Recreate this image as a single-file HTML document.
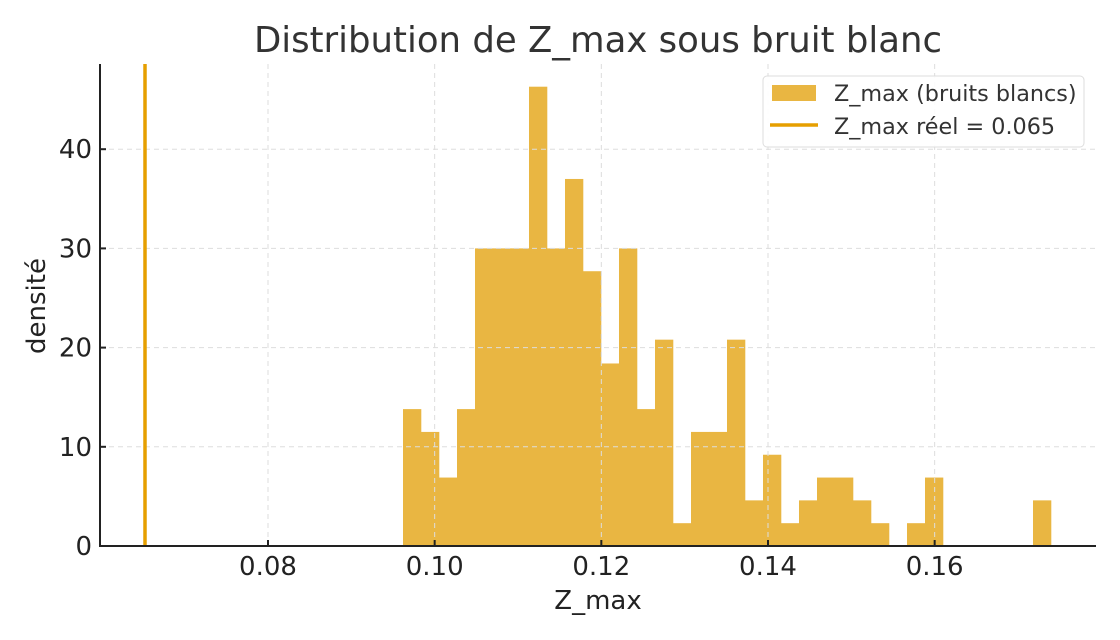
<!DOCTYPE html>
<html><head><meta charset="utf-8"><style>
body{margin:0;background:#fff;}
svg{display:block;font-family:"DejaVu Sans","Liberation Sans",sans-serif;}
</style></head><body>
<svg id="c" width="1120" height="640">
<text x="598" y="52" font-size="35.5" text-anchor="middle" fill="#333">Distribution de Z_max sous bruit blanc</text>
<g id="grid"></g><g id="bars"></g><g id="gridtop"></g><g id="axes"></g>
<text x="598" y="609" font-size="26" text-anchor="middle" fill="#222">Z_max</text>
<text transform="translate(45,306) rotate(-90)" font-size="26" text-anchor="middle" fill="#222">densité</text>
<g>
<rect x="763" y="76" width="321" height="71" rx="4" fill="#fff" fill-opacity="0.9" stroke="#ddd"/>
<rect x="772" y="85" width="44" height="16" fill="#E9B642"/>
<text x="834" y="101" font-size="22.3" fill="#333">Z_max (bruits blancs)</text>
<line x1="770" x2="818" y1="125" y2="125" stroke="#E69F00" stroke-width="3.5"/>
<text x="834" y="134" font-size="22.3" fill="#333">Z_max réel = 0.065</text>
</g>
</svg>
<script>
const binStart = 0.0962;
const binWidth = 0.00216;
const densities = [13.8,11.5,6.9,13.8,30,30,30,46.3,30,37,27.7,18.4,30,13.8,20.8,2.3,11.5,11.5,20.8,4.6,9.2,2.3,4.6,6.9,6.9,4.6,2.3,0,2.3,6.9,0,0,0,0,0,4.6];
const xTicks = [0.08,0.10,0.12,0.14,0.16];
const xTickLabels = ["0.08","0.10","0.12","0.14","0.16"];
const yTicks = [0,10,20,30,40];
const realZ = 0.065;
const L=100,R=1096,T=64,B=546;
const xs=v=>268+(v-0.08)*8333.3;
const ys=v=>B-v*9.92;
const NS="http://www.w3.org/2000/svg";
function mk(tag,attrs,parent){const e=document.createElementNS(NS,tag);for(const k in attrs)e.setAttribute(k,attrs[k]);document.getElementById(parent).appendChild(e);return e;}
xTicks.forEach((t,i)=>{const x=xs(t);
 const g=mk('line',{x1:x,x2:x,y1:T,y2:B,stroke:'#ddd','stroke-dasharray':'5,4','stroke-width':1},'gridtop');
 
 
 const tk=mk('line',{x1:x,x2:x,y1:B,y2:B-6,stroke:'#222','stroke-width':2},'axes');
 
 
 const tx=mk('text',{x:x,y:B+29,'font-size':26,'text-anchor':'middle',fill:'#222'},'axes');tx.textContent=xTickLabels[i];
 
 
});
yTicks.forEach(t=>{const y=ys(t);
 if(t>0){const g=mk('line',{x1:L,x2:R,y1:y,y2:y,stroke:'#ddd','stroke-dasharray':'5,4','stroke-width':1},'gridtop');
 
 }
 const tk=mk('line',{x1:L,x2:L+6,y1:y,y2:y,stroke:'#222','stroke-width':2},'axes');
 
 
 const tx=mk('text',{x:L-8,y:y+9,'font-size':26,'text-anchor':'end',fill:'#222'},'axes');tx.textContent=String(t);
 
 
});
densities.forEach((d,i)=>{if(d<=0)return;
 const x0=xs(binStart+i*binWidth),x1=xs(binStart+(i+1)*binWidth);
 const r=mk('rect',{x:x0,y:ys(d),width:x1-x0+0.3,height:B-ys(d),fill:'#E9B642'},'bars');
 
 
});
const rl=mk('line',{x1:xs(realZ)+2,x2:xs(realZ)+2,y1:T,y2:B,stroke:'#E69F00','stroke-width':3.5},'axes');


const ax=mk('path',{d:`M${L},${T} V${B} H${R}`,fill:'none',stroke:'#222','stroke-width':2},'axes');


</script>
</body></html>
